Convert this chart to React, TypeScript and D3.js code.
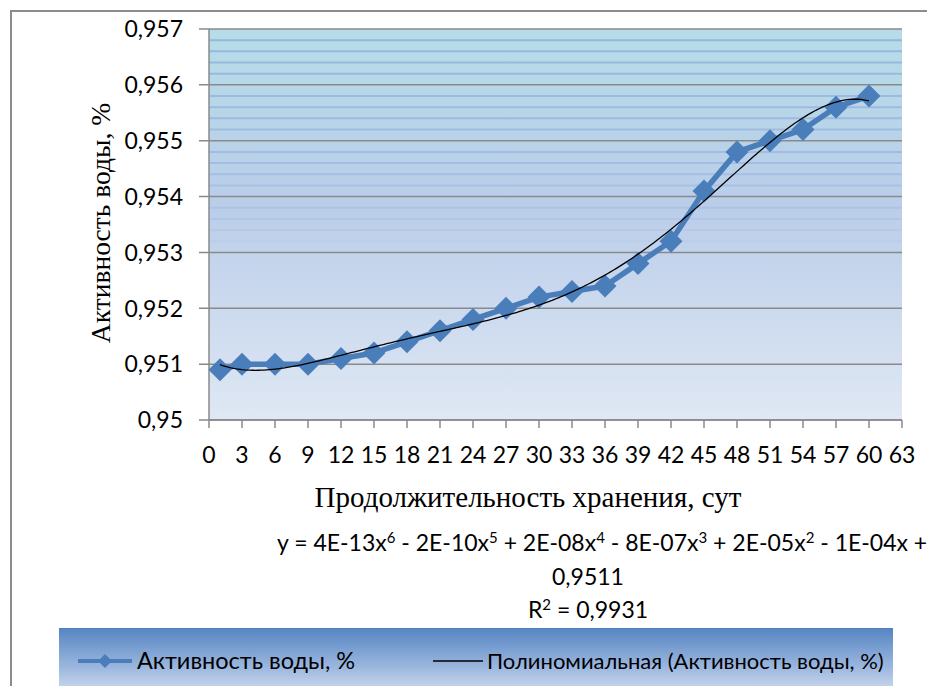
import React from "react";
import * as d3 from "d3";

const days = [1, 3, 6, 9, 12, 15, 18, 21, 24, 27, 30, 33, 36, 39, 42, 45, 48, 51, 54, 57, 60];
const activity = [0.9509, 0.951, 0.951, 0.951, 0.9511, 0.9512, 0.9514, 0.9516, 0.9518, 0.952, 0.9522, 0.9523, 0.9524, 0.9528, 0.9532, 0.9541, 0.9548, 0.955, 0.9552, 0.9556, 0.9558];
const yTicks = [0.95, 0.951, 0.952, 0.953, 0.954, 0.955, 0.956, 0.957];
const xTicks = d3.range(0, 64, 3);
const seriesName = "Активность воды, %";
const trendName = "Полиномиальная (Активность воды, %)";
const xTitle = "Продолжительность хранения, сут";
const yTitle = "Активность воды, %";
// equation parts: [text, exponent]
const eqTerms: [string, string][] = [
  ["y = 4E-13x", "6"],
  [" - 2E-10x", "5"],
  [" + 2E-08x", "4"],
  [" - 8E-07x", "3"],
  [" + 2E-05x", "2"],
  [" - 1E-04x +", ""],
];
const eqLine2 = "0,9511";
const r2Label = ["R", "2", " = 0,9931"];

function polyFit(xs: number[], ys: number[], deg: number) {
  const c = 30.5, s = 29.5;
  const n = deg + 1;
  const A = Array.from({ length: n }, () => new Array(n + 1).fill(0));
  xs.forEach((x, k) => {
    const t = (x - c) / s;
    const p: number[] = [];
    for (let i = 0; i < n; i++) p.push(Math.pow(t, i));
    for (let i = 0; i < n; i++) {
      for (let j = 0; j < n; j++) A[i][j] += p[i] * p[j];
      A[i][n] += p[i] * ys[k];
    }
  });
  for (let i = 0; i < n; i++) {
    let m = i;
    for (let r = i + 1; r < n; r++) if (Math.abs(A[r][i]) > Math.abs(A[m][i])) m = r;
    [A[i], A[m]] = [A[m], A[i]];
    for (let r = 0; r < n; r++) {
      if (r === i) continue;
      const f = A[r][i] / A[i][i];
      for (let col = i; col <= n; col++) A[r][col] -= f * A[i][col];
    }
  }
  const coef = A.map((row, i) => row[n] / row[i]);
  return (x: number) => {
    const t = (x - c) / s;
    return coef.reduce((acc, a, i) => acc + a * Math.pow(t, i), 0);
  };
}

const fmtTick = (v: number) => {
  let s = d3.format(".3f")(v).replace(/0+$/, "");
  if (s.endsWith(".")) s = s.slice(0, -1);
  return s.replace(".", ",");
};

export default function App() {
  const W = 927, H = 686;
  const left = 209, right = 902, top = 29, bottom = 420;
  const x = d3.scaleLinear().domain([0, 63]).range([left, right]);
  const y = d3.scaleLinear().domain([0.95, 0.957]).range([bottom, top]);
  const fit = polyFit(days, activity, 6);
  const trendPts = d3.range(days[0], days[days.length - 1] + 0.001, 0.25).map((d) => [d, fit(d)] as [number, number]);
  const line = d3.line<[number, number]>().x((d) => x(d[0])).y((d) => y(d[1]));
  const seriesLine = d3.line<number>().x((_, i) => x(days[i])).y((d) => y(d));
  const minor = d3.range(0, 36).map((i) => 0.95 + i * 0.0002).filter((v) => Math.abs(v * 1000 - Math.round(v * 1000)) > 1e-6);
  const font = "Lato, 'Open Sans', sans-serif";
  const serif = "'Liberation Serif', 'DejaVu Serif', serif";
  const diamond = (cx: number, cy: number, r: number) => `M${cx},${cy - r}L${cx + r},${cy}L${cx},${cy + r}L${cx - r},${cy}Z`;
  const supShift = 8;
  const eqSpans: React.ReactNode[] = [];
  eqTerms.forEach(([t, e], i) => {
    const prevHadExp = i > 0 && eqTerms[i - 1][1] !== "";
    eqSpans.push(<tspan key={`t${i}`} dy={prevHadExp ? supShift : 0}>{t}</tspan>);
    if (e) eqSpans.push(<tspan key={`e${i}`} fontSize={15} dy={-supShift}>{e}</tspan>);
  });
  return (
    <svg width={W} height={H} style={{ position: "absolute", left: 0, top: 0, background: "#fff" }}>
      <defs>
        <linearGradient id="bg" x1="0" y1="0" x2="0" y2="1">
          <stop offset="0" stopColor="#b6dde8" />
          <stop offset="0.45" stopColor="#bacde9" />
          <stop offset="1" stopColor="#dfe8f4" />
        </linearGradient>
        <linearGradient id="mg" gradientUnits="userSpaceOnUse" x1="0" y1={top} x2="0" y2={260}>
          <stop offset="0" stopColor="#97b4dd" stopOpacity="1" />
          <stop offset="0.6" stopColor="#9ab5de" stopOpacity="0.7" />
          <stop offset="1" stopColor="#9ab5de" stopOpacity="0" />
        </linearGradient>
        <linearGradient id="lg" x1="0" y1="0" x2="0" y2="1">
          <stop offset="0" stopColor="#5585c2" />
          <stop offset="0.5" stopColor="#9db8df" />
          <stop offset="0.85" stopColor="#d5e1f0" />
          <stop offset="1" stopColor="#dfe8f4" />
        </linearGradient>
      </defs>
      <rect x={11} y={11} width={1000} height={1000} fill="#fff" stroke="#8c8c8c" strokeWidth={2} />
      <rect x={left} y={top} width={right - left} height={bottom - top} fill="url(#bg)" />
      {minor.map((v) => (
        <line key={v} x1={left} x2={right} y1={y(v)} y2={y(v)} stroke="url(#mg)" strokeWidth={2} />
      ))}
      {yTicks.map((v) => (
        <g key={v}>
          <line x1={left - 10} x2={right} y1={y(v)} y2={y(v)} stroke="#8a8a8a" strokeWidth={1.5} />
          <text x={183} y={y(v)} dy="0.36em" textAnchor="end" fontFamily={font} fontSize={23} fill="#000">
            {fmtTick(v)}
          </text>
        </g>
      ))}
      <line x1={left} x2={left} y1={top} y2={bottom} stroke="#8a8a8a" strokeWidth={1.5} />
      <line x1={left} x2={right} y1={bottom} y2={bottom} stroke="#8a8a8a" strokeWidth={1.5} />
      {xTicks.map((v) => (
        <g key={v}>
          <line x1={x(v)} x2={x(v)} y1={bottom} y2={bottom + 8} stroke="#8a8a8a" strokeWidth={1.5} />
          <text x={x(v)} y={455} dy="0.36em" textAnchor="middle" fontFamily={font} fontSize={23} fill="#000">
            {v}
          </text>
        </g>
      ))}
      <path d={seriesLine(activity) || ""} fill="none" stroke="#4a7ebb" strokeWidth={5.5} strokeLinejoin="round" />
      {activity.map((v, i) => (
        <path key={i} d={diamond(x(days[i]), y(v), 11.5)} fill="#4a7ebb" />
      ))}
      <path d={line(trendPts) || ""} fill="none" stroke="#000" strokeWidth={1.3} />
      <text x={528} y={497} dy="0.36em" textAnchor="middle" fontFamily={serif} fontSize={29} fill="#000">
        {xTitle}
      </text>
      <text transform={`translate(100,223) rotate(-90)`} dy="0.36em" textAnchor="middle" fontFamily={serif} fontSize={27.5} fill="#000">
        {yTitle}
      </text>
      <text x={277} y={551} fontFamily={font} fontSize={23} fill="#000">
        {eqSpans}
      </text>
      <text x={588} y={585} textAnchor="middle" fontFamily={font} fontSize={23} fill="#000">{eqLine2}</text>
      <text x={588} y={618} textAnchor="middle" fontFamily={font} fontSize={23} fill="#000">
        <tspan>{r2Label[0]}</tspan>
        <tspan fontSize={15} dy={-supShift}>{r2Label[1]}</tspan>
        <tspan dy={supShift}>{r2Label[2]}</tspan>
      </text>
      <rect x={59} y={628} width={834} height={80} fill="url(#lg)" />
      <line x1={59} x2={893} y1={628.5} y2={628.5} stroke="#4f7fbd" strokeWidth={1} />
      <line x1={78} x2={132} y1={661} y2={661} stroke="#4a7ebb" strokeWidth={4} />
      <path d={diamond(105, 661, 7)} fill="#4a7ebb" />
      <text x={137} y={661} dy="0.36em" fontFamily={font} fontSize={23.5} fill="#000">{seriesName}</text>
      <line x1={433} x2={483} y1={661} y2={661} stroke="#000" strokeWidth={1.3} />
      <text x={487} y={661} dy="0.36em" fontFamily={font} fontSize={22} fill="#000">{trendName}</text>
    </svg>
  );
}
